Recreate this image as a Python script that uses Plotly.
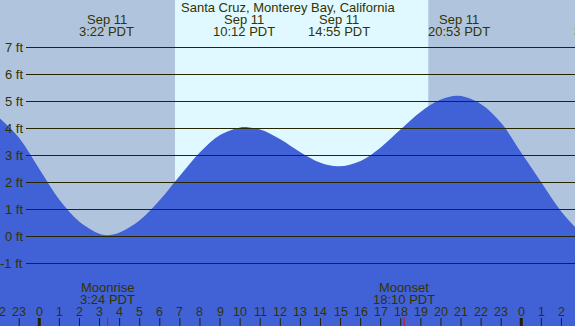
import plotly.graph_objects as go

# ---------------- data ----------------
tide_hours = [-2, -1, 0, 1, 2, 3, 3.37, 4, 5, 6, 7, 8, 9, 10, 10.2, 11, 12, 13, 14, 14.92,
              16, 17, 18, 19, 20, 20.88, 22, 23, 24, 25, 26, 27]
tide_heights = [4.4, 3.65, 2.5, 1.36, 0.55, 0.1, 0.05, 0.15, 0.6, 1.35, 2.25, 3.12, 3.76, 4.04, 4.06,
                3.96, 3.6, 3.12, 2.73, 2.6, 2.8, 3.3, 3.97, 4.62, 5.07, 5.21, 4.9, 4.2, 3.1, 2.0, 0.92, 0.1]

event_hours = [3.367, 10.2, 14.917, 20.883, 27.98]
event_dates = ["Sep 11", "Sep 11", "Sep 11", "Sep 11", "Sep 12"]
event_times = ["3:22 PDT", "10:12 PDT", "14:55 PDT", "20:53 PDT", "3:59 PDT"]

moon_hours = [3.4, 18.167]
moon_names = ["Moonrise", "Moonset"]
moon_times = ["3:24 PDT", "18:10 PDT"]

sunrise_hour = 6.757
sunset_hour = 19.37

hour_ticks = list(range(-2, 27))
hour_labels = [str(h % 24) for h in hour_ticks]
midnight_ticks = [0, 24]

ft_levels = [-1, 0, 1, 2, 3, 4, 5, 6, 7]
ft_labels = [f"{v} ft" for v in ft_levels]

title_text = "Santa Cruz, Monterey Bay, California"

# ---------------- layout constants ----------------
W, H = 575, 326
XMIN, XMAX = -1.957, 26.675
YMAX = 236.5 / 27
YMIN = YMAX - H / 27

NIGHT = "#B0C4DE"
DAY = "#E0F8FF"
WATER = "#4161D6"
INK = "#333300"
GRID = "#262600"
FONT = "Liberation Sans, Arial, sans-serif"


def xp(h):
    return (h - XMIN) / (XMAX - XMIN)


def yp(px):
    return 1 - px / H


fig = go.Figure()

# baseline for fill
fig.add_trace(go.Scatter(x=[XMIN - 1, XMAX + 1], y=[YMIN - 1, YMIN - 1], mode="lines",
                         line=dict(width=0, color=WATER), hoverinfo="skip", showlegend=False))
fig.add_trace(go.Scatter(x=tide_hours, y=tide_heights, mode="lines",
                         line=dict(width=0, color=WATER, shape="spline", smoothing=1),
                         fill="tonexty", fillcolor=WATER, hoverinfo="skip", showlegend=False))

shapes = []
# day background
shapes.append(dict(type="rect", xref="x", yref="paper", x0=sunrise_hour, x1=sunset_hour,
                   y0=0, y1=1, fillcolor=DAY, line=dict(width=0), layer="below"))
# grid lines
for v in ft_levels:
    shapes.append(dict(type="line", xref="paper", yref="y", x0=26 / W, x1=1, y0=v, y1=v,
                       line=dict(color=GRID, width=1.2), layer="above"))
# hour ticks
for h in hour_ticks:
    wd = 3 if h in midnight_ticks else 1
    shapes.append(dict(type="line", xref="x", yref="paper", x0=h, x1=h, y0=0, y1=8 / H,
                       line=dict(color="#222200", width=wd), layer="above"))
for h in moon_hours:
    shapes.append(dict(type="line", xref="x", yref="paper", x0=h, x1=h, y0=0, y1=8 / H,
                       line=dict(color="#ff0000", width=1), layer="above"))

ann = []


def text(x, y, s, xanchor="center", size=13):
    ann.append(dict(xref="paper", yref="paper", x=x, y=y, text=s, showarrow=False,
                    xanchor=xanchor, yanchor="middle", font=dict(family=FONT, size=size, color=INK)))


text(0.5, yp(8), title_text)
for h, d, t in zip(event_hours, event_dates, event_times):
    text(xp(h), yp(20), d)
    text(xp(h), yp(32), t)
for h, n, t in zip(moon_hours, moon_names, moon_times):
    text(xp(h), yp(287.5), n)
    text(xp(h), yp(299.5), t)
for h, lab in zip(hour_ticks, hour_labels):
    text(xp(h), yp(311.5), lab, size=12.5)
for v, lab in zip(ft_levels, ft_labels):
    ann.append(dict(xref="paper", yref="y", x=24.5 / W, y=v, text=lab, showarrow=False,
                    xanchor="right", yanchor="middle", font=dict(family=FONT, size=13, color=INK)))

fig.update_layout(
    width=W, height=H, margin=dict(l=0, r=0, t=0, b=0, pad=0),
    paper_bgcolor=NIGHT, plot_bgcolor=NIGHT,
    xaxis=dict(range=[XMIN, XMAX], visible=False, fixedrange=True),
    yaxis=dict(range=[YMIN, YMAX], visible=False, fixedrange=True),
    shapes=shapes, annotations=ann, showlegend=False,
)

fig.write_html("out.html", config={"displayModeBar": False},
               post_script="document.body.style.margin='0';document.body.style.overflow='hidden';")
